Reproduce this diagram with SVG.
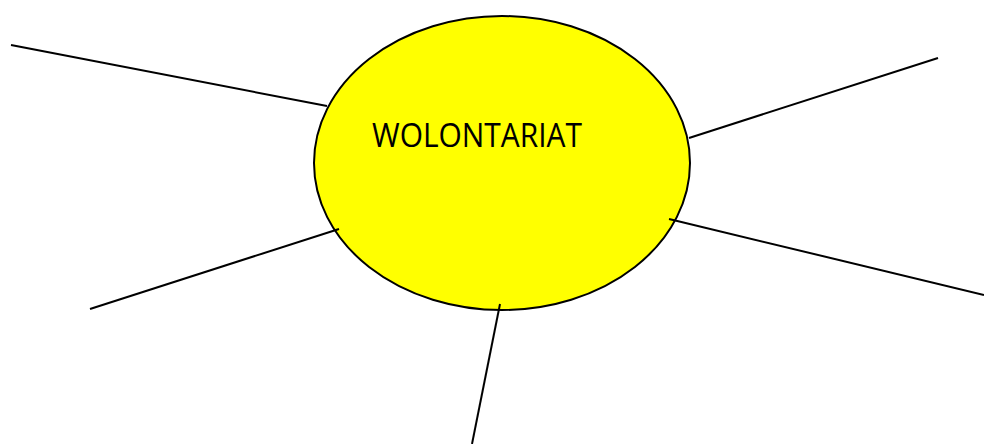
<svg xmlns="http://www.w3.org/2000/svg" width="984" height="444" viewBox="0 0 984 444">
<style>
.ln{stroke:#000;stroke-width:2;fill:none}
.el{fill:#ffff00;stroke:#000;stroke-width:2}
.lbl{font-family:"Open Sans","Liberation Sans",sans-serif;font-size:33px;fill:#000}
</style>
<rect width="984" height="444" fill="#fff"/>
<g id="wolontariat">
<ellipse class="el" cx="502" cy="163" rx="188" ry="147"/>
<text class="lbl" x="372" y="147" textLength="210" lengthAdjust="spacingAndGlyphs">WOLONTARIAT</text>
</g>
<g id="connectors">
<line class="ln" x1="11" y1="45" x2="327" y2="106"/>
<line class="ln" x1="938" y1="58" x2="689" y2="138"/>
<line class="ln" x1="90" y1="309" x2="339" y2="229"/>
<line class="ln" x1="669" y1="219" x2="984" y2="295"/>
<line class="ln" x1="500" y1="304" x2="472" y2="444"/>
</g>
</svg>
